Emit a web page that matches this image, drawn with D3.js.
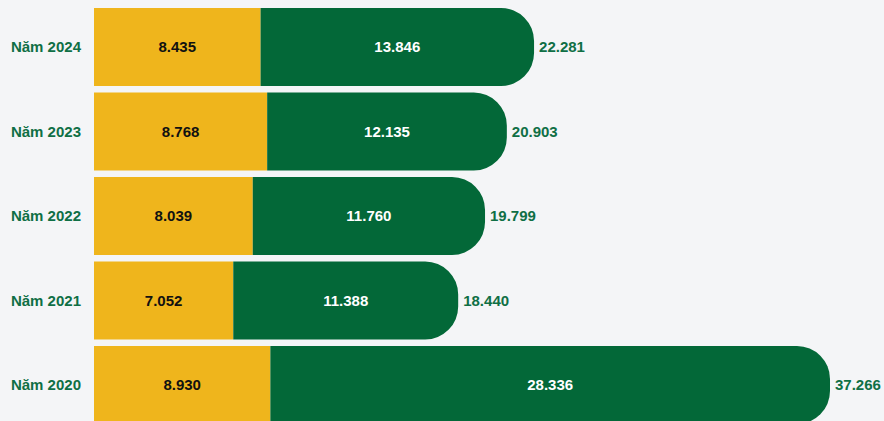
<!DOCTYPE html>
<html>
<head>
<meta charset="utf-8">
<script src="https://cdn.jsdelivr.net/npm/d3@7"></script>
<style>
  body { margin: 0; background: #f4f5f7; overflow: hidden; }
  svg { display: block; }
</style>
</head>
<body>
<svg id="chart" width="884" height="421"></svg>
<script>
// data
var years = ["Năm 2024", "Năm 2023", "Năm 2022", "Năm 2021", "Năm 2020"];
var yellowVals = [8.435, 8.768, 8.039, 7.052, 8.930];
var greenVals = [13.846, 12.135, 11.760, 11.388, 28.336];
var totals = [22.281, 20.903, 19.799, 18.440, 37.266];

var svg = d3.select("#chart");
var fmt = function(v) { return v.toFixed(3); };

var x = d3.scaleLinear().domain([0, d3.max(totals)]).range([94, 830]);
var y = d3.scaleBand().domain(years).range([8, 424]).paddingInner(6.5 / 84.5).paddingOuter(0);
var bh = y.bandwidth();
var r = 33;

var rows = svg.selectAll("g.row")
  .data(years)
  .enter()
  .append("g")
  .attr("class", "row")
  .attr("transform", function(d) { return "translate(0," + y(d) + ")"; });

// yellow part
rows.append("rect")
  .attr("x", x(0))
  .attr("y", 0)
  .attr("width", function(d, i) { return x(yellowVals[i]) - x(0); })
  .attr("height", bh)
  .style("fill", "#efb51c");

// green part, rounded on the right
rows.append("path")
  .attr("d", function(d, i) {
    var x0 = x(yellowVals[i]), x1 = x(yellowVals[i] + greenVals[i]);
    var p = d3.path();
    p.moveTo(x0, 0);
    p.lineTo(x1 - r, 0);
    p.arcTo(x1, 0, x1, r, r);
    p.lineTo(x1, bh - r);
    p.arcTo(x1, bh, x1 - r, bh, r);
    p.lineTo(x0, bh);
    p.closePath();
    return p.toString();
  })
  .style("fill", "#036838");

function label(sel) {
  return sel.append("text")
    .attr("y", bh / 2)
    .attr("dy", "0.35em")
    .style("font-family", "Liberation Sans, Arial, sans-serif")
    .style("font-weight", "bold")
    .style("font-size", "15px");
}

label(rows)
  .attr("x", 81)
  .attr("text-anchor", "end")
  .style("fill", "#0f6f45")
  .text(function(d) { return d; });

label(rows)
  .attr("x", function(d, i) { return (x(0) + x(yellowVals[i])) / 2; })
  .attr("text-anchor", "middle")
  .style("fill", "#111")
  .text(function(d, i) { return fmt(yellowVals[i]); });

label(rows)
  .attr("x", function(d, i) { return (x(yellowVals[i]) + x(totals[i])) / 2; })
  .attr("text-anchor", "middle")
  .style("fill", "#ffffff")
  .text(function(d, i) { return fmt(greenVals[i]); });

label(rows)
  .attr("x", function(d, i) { return x(totals[i]) + 5; })
  .style("fill", "#0f6f45")
  .text(function(d, i) { return fmt(totals[i]); });
</script>
</body>
</html>
